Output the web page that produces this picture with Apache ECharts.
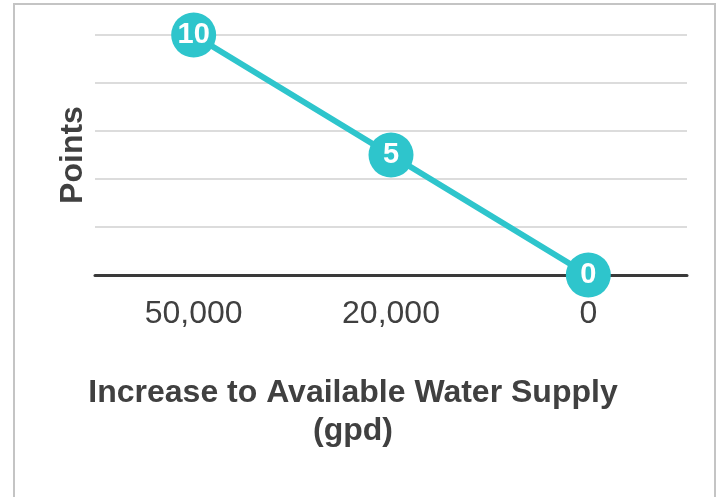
<!DOCTYPE html>
<html>
<head>
<meta charset="utf-8">
<script src="https://cdn.jsdelivr.net/npm/echarts@6/dist/echarts.min.js"></script>
<style>
  html, body { margin: 0; padding: 0; background: #ffffff; }
  #chart { width: 717px; height: 497px; }
</style>
</head>
<body>
<div id="chart"></div>
<script>
// Water-supply increase (gpd) and the points awarded for it
const categories = ['50,000', '20,000', '0'];
const points = [10, 5, 0];
const yMin = 0;
const yMax = 10;
const yStep = 2;
const xTitle = 'Increase to Available Water Supply\n(gpd)';
const yTitle = 'Points';

const teal = '#2EC5CC';
const textGrey = '#404040';
const fontFamily = '"Liberation Sans", Arial, Helvetica, sans-serif';

const chart = echarts.init(document.getElementById('chart'), null, { renderer: 'canvas' });

chart.setOption({
  animation: false,
  backgroundColor: '#ffffff',
  graphic: [{
    type: 'rect',
    silent: true,
    shape: { x: 14, y: 4, width: 701, height: 520 },
    style: { fill: 'none', stroke: '#c4c4c4', lineWidth: 2 }
  }],
  grid: { left: 95, right: 30, top: 35, bottom: 222, containLabel: false },
  xAxis: {
    type: 'category',
    data: categories,
    boundaryGap: true,
    axisLine: { show: true, lineStyle: { color: '#3a3a3a', width: 3 } },
    axisTick: { show: false },
    axisLabel: {
      color: textGrey, fontSize: 32, fontFamily: fontFamily, margin: 23
    },
    name: xTitle,
    nameLocation: 'middle',
    nameGap: 99,
    nameTextStyle: {
      color: textGrey, fontSize: 32, fontWeight: 'bold', fontFamily: fontFamily,
      lineHeight: 38, align: 'center',
      // title sits left of the plot centre
      padding: [0, 76, 0, 0]
    }
  },
  yAxis: {
    type: 'value',
    min: yMin,
    max: yMax,
    interval: yStep,
    axisLine: { show: false },
    axisTick: { show: false },
    axisLabel: { show: false },
    splitLine: { show: true, lineStyle: { color: '#d0d0d0', width: 1.5 } },
    name: yTitle,
    nameLocation: 'middle',
    nameGap: 6,
    nameTextStyle: {
      color: textGrey, fontSize: 32, fontWeight: 'bold', fontFamily: fontFamily
    }
  },
  series: [{
    type: 'line',
    data: points,
    symbol: 'circle',
    symbolSize: 45,
    lineStyle: { color: teal, width: 6 },
    itemStyle: { color: teal },
    label: {
      show: true,
      position: 'inside',
      color: '#ffffff',
      fontSize: 29,
      fontWeight: 'bold',
      fontFamily: fontFamily
    },
    z: 5
  }]
});
</script>
</body>
</html>
